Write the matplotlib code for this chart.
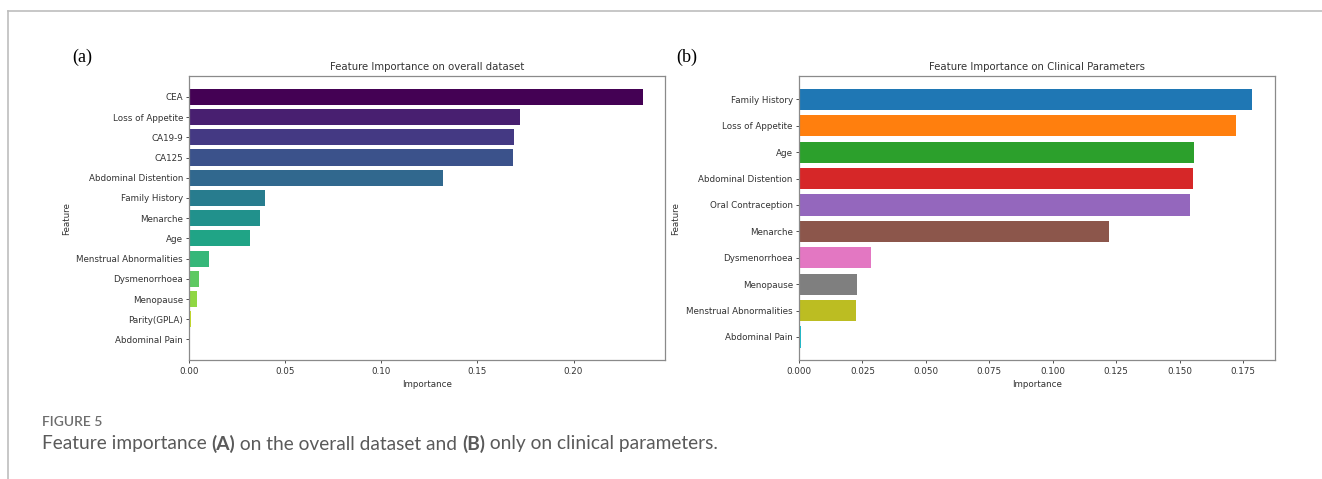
import numpy as np
import matplotlib.pyplot as plt
from matplotlib.lines import Line2D

# Feature importance, overall dataset (top to bottom)
features_all = ['CEA', 'Loss of Appetite', 'CA19-9', 'CA125', 'Abdominal Distention',
                'Family History', 'Menarche', 'Age', 'Menstrual Abnormalities',
                'Dysmenorrhoea', 'Menopause', 'Parity(GPLA)', 'Abdominal Pain']
importance_all = [0.236, 0.172, 0.169, 0.1685, 0.132, 0.0392, 0.0368, 0.0315,
                  0.0104, 0.0051, 0.0040, 0.0008, 0.0]

# Feature importance, clinical parameters only (top to bottom)
features_clin = ['Family History', 'Loss of Appetite', 'Age', 'Abdominal Distention',
                 'Oral Contraception', 'Menarche', 'Dysmenorrhoea', 'Menopause',
                 'Menstrual Abnormalities', 'Abdominal Pain']
importance_clin = [0.1785, 0.1720, 0.1555, 0.1551, 0.1540, 0.1221, 0.0284,
                   0.0229, 0.0226, 0.0009]

TICK_FS = 6.3
TITLE_FS = 7.3
CAP_FS = 13.8
plt.rcParams['font.family'] = 'DejaVu Sans'

fig = plt.figure(figsize=(13.22, 4.79), dpi=100)

ax1 = fig.add_axes([0.1432, 0.2475, 0.3601, 0.5940])
ax2 = fig.add_axes([0.6044, 0.2475, 0.3598, 0.5940])

n1 = len(features_all)
colors1 = plt.cm.viridis(np.linspace(0, 1, n1))
ax1.barh(features_all[::-1], importance_all[::-1], color=colors1[::-1], height=0.8)
ax1.set_title('Feature Importance on overall dataset', fontsize=TITLE_FS, pad=4, color='#333333')

n2 = len(features_clin)
colors2 = [plt.cm.tab10(i) for i in range(n2)]
ax2.barh(features_clin[::-1], importance_clin[::-1], color=colors2[::-1], height=0.8)
ax2.set_title('Feature Importance on Clinical Parameters', fontsize=TITLE_FS, pad=4, color='#333333')
ax2.set_xticks([0.0, 0.025, 0.05, 0.075, 0.1, 0.125, 0.15, 0.175])
ax2.set_xticklabels(['0.000', '0.025', '0.050', '0.075', '0.100', '0.125', '0.150', '0.175'])
ax1.set_xticks([0.0, 0.05, 0.1, 0.15, 0.2])
ax1.set_xticklabels(['0.00', '0.05', '0.10', '0.15', '0.20'])

for ax in (ax1, ax2):
    ax.set_xlabel('Importance', fontsize=TICK_FS, color='#333333', labelpad=3)
    ax.set_ylabel('Feature', fontsize=TICK_FS, color='#333333', labelpad=4)
    ax.tick_params(labelsize=TICK_FS, colors='#333333', length=2.5, width=0.6, pad=2)
    for s in ax.spines.values():
        s.set_color('#8a8a8a')
        s.set_linewidth(0.9)

# panel letters
fig.text(0.0545, 0.88, '(a)', fontsize=13, family='Liberation Serif', va='center', ha='left')
fig.text(0.5118, 0.88, '(b)', fontsize=13, family='Liberation Serif', va='center', ha='left')

# outer frame lines
fig.add_artist(Line2D([8 / 1322, 1], [1 - 11 / 479, 1 - 11 / 479], color='#bdbdbd', lw=1.2))
fig.add_artist(Line2D([8 / 1322, 8 / 1322], [0, 1 - 11 / 479], color='#bdbdbd', lw=1.2))

# caption
fig.text(42 / 1322, 1 - 422 / 479, 'FIGURE 5', fontsize=10, family='Lato', weight='semibold',
         color='#6d6d6d', va='center', ha='left')
parts = [('Feature importance ', 'normal'), ('(A)', 'bold'), (' on the overall dataset and ', 'normal'),
         ('(B)', 'bold'), (' only on clinical parameters.', 'normal')]
fig.canvas.draw()
renderer = fig.canvas.get_renderer()
x = 42 / 1322
for txt, w in parts:
    t = fig.text(x, 1 - 444 / 479, txt, fontsize=CAP_FS, family='Lato', weight=w,
                 color='#5a5a5a', va='center', ha='left')
    bb = t.get_window_extent(renderer=renderer)
    x += bb.width / fig.bbox.width

fig.savefig('out.png', dpi=100)
